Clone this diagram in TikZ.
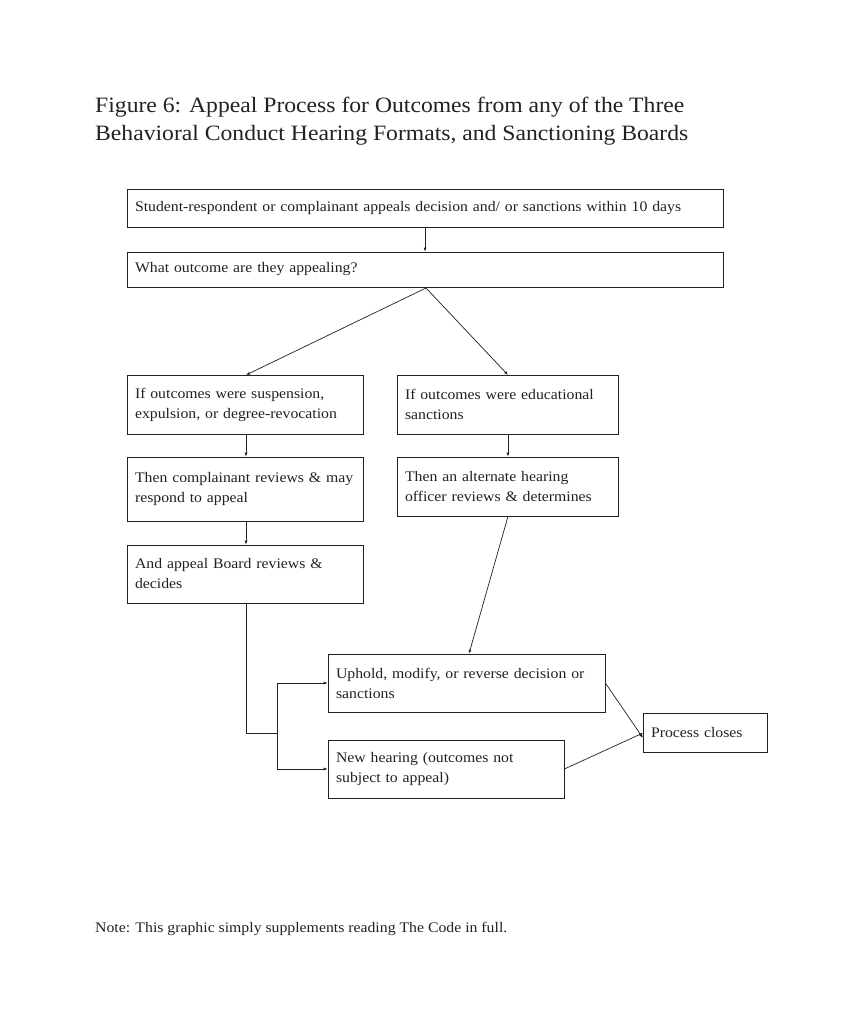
\documentclass[tikz,border=0pt]{standalone}
\usepackage{fontspec}
\setmainfont[FakeStretch=1.08]{Liberation Serif}
\usetikzlibrary{arrows.meta}
\definecolor{ink}{HTML}{222222}
\begin{document}
\begin{tikzpicture}[x=1pt,y=-1pt,
  box/.style={draw=ink, line width=0.7pt, rectangle, inner xsep=8pt, inner ysep=0pt,
    align=left, font=\fontsize{14.6}{20}\selectfont, text=ink},
  conn/.style={draw=ink, line width=0.7pt},
  arr/.style={conn, -{Latex[length=4pt,width=3pt]}}]
\useasboundingbox (0,0) rectangle (853,1024);
\fill[white] (0,0) rectangle (853,1024);
\node[anchor=north west, align=left, font=\fontsize{21.9}{28}\selectfont, text=ink, inner sep=0pt] (title) at (95,97)
 {Figure 6: Appeal Process for Outcomes from any of the Three\\Behavioral Conduct Hearing Formats, and Sanctioning Boards};
% boxes: center = (x+w/2, y+h/2)
\node[box, minimum width=596pt, minimum height=38pt, text width=580pt] (b1) at (425,208)
 {Student-respondent or complainant appeals decision and/ or sanctions within 10 days};
\node[box, minimum width=596pt, minimum height=35pt, text width=580pt] (b2) at (425,269.5)
 {What outcome are they appealing?};
\node[box, minimum width=236pt, minimum height=59pt, text width=220pt] (b3) at (245,404.5)
 {If outcomes were suspension,\\expulsion, or degree-revocation};
\node[box, minimum width=221pt, minimum height=59pt, text width=205pt] (b4) at (507.5,404.5)
 {If outcomes were educational\\sanctions};
\node[box, minimum width=236pt, minimum height=64pt, text width=220pt] (b5) at (245,489)
 {Then complainant reviews \& may\\respond to appeal};
\node[box, minimum width=221pt, minimum height=59pt, text width=205pt] (b6) at (507.5,486.5)
 {Then an alternate hearing\\officer reviews \& determines};
\node[box, minimum width=236pt, minimum height=58pt, text width=220pt] (b7) at (245,574)
 {And appeal Board reviews \&\\decides};
\node[box, minimum width=277pt, minimum height=58pt, text width=261pt] (b8) at (466.5,683)
 {Uphold, modify, or reverse decision or\\sanctions};
\node[box, minimum width=236pt, minimum height=58pt, text width=220pt] (b9) at (446,769)
 {New hearing (outcomes not\\subject to appeal)};
\node[box, minimum width=124pt, minimum height=39pt, text width=108pt] (b10) at (705,732.5)
 {Process closes};
\node[anchor=base west, font=\fontsize{14.6}{16}\selectfont, text=ink, inner sep=0pt] (note) at (95,932)
 {Note: This graphic simply supplements reading The Code in full.};
% connectors
\draw[arr] (b1.south) -- (b2.north);
\coordinate (split) at (426,288);
\draw[arr] (split) -- (246,375);
\draw[arr] (split) -- (508,375);
\draw[arr] (b3.south -| 246,0) -- (b5.north -| 246,0);
\draw[arr] (b4.south -| 508,0) -- (b6.north -| 508,0);
\draw[arr] (b5.south -| 246,0) -- (b7.north -| 246,0);
\draw[arr] (b6.south -| 508,0) -- (b8.north -| 469,0);
\coordinate (j1) at (277,733);
\draw[conn] (b7.south -| 246,0) |- (j1);
\draw[conn] (277,683) -- (277,769);
\draw[arr] (277,683) -- (b8.west);
\draw[arr] (277,769) -- (b9.west);
\draw[arr] (b8.east) -- (643,738);
\draw[arr] (b9.east) -- (643,733);
\end{tikzpicture}
\end{document}
